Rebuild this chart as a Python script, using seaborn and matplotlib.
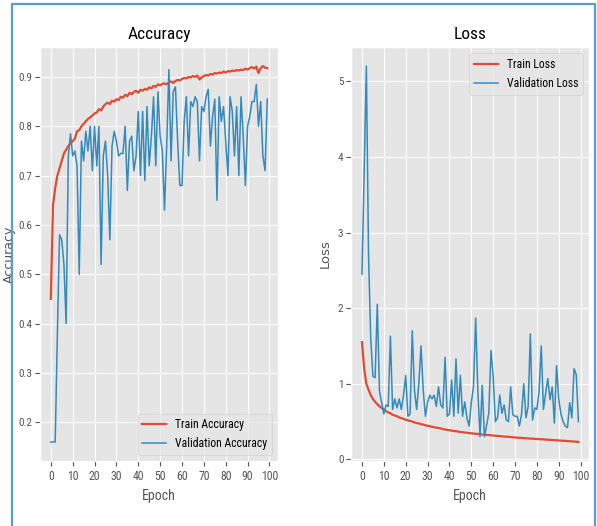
import numpy as np
import pandas as pd
import seaborn as sns
import matplotlib
matplotlib.use("Agg")
import matplotlib.pyplot as plt
from matplotlib import font_manager
from matplotlib.lines import Line2D

# epochs 0..99
epochs = list(range(100))

train_acc = [0.45, 0.64, 0.675, 0.70, 0.715, 0.73, 0.745, 0.752, 0.76, 0.765,
             0.77, 0.775, 0.79, 0.792, 0.80, 0.805, 0.81, 0.815, 0.818, 0.822,
             0.826, 0.828, 0.835, 0.832, 0.84, 0.845, 0.848, 0.845, 0.852, 0.85,
             0.855, 0.853, 0.86, 0.858, 0.864, 0.861, 0.868, 0.865, 0.87, 0.872,
             0.868, 0.874, 0.872, 0.876, 0.874, 0.879, 0.877, 0.882, 0.88, 0.885,
             0.883, 0.886, 0.887, 0.885, 0.889, 0.891, 0.888, 0.892, 0.894, 0.893,
             0.896, 0.898, 0.897, 0.90, 0.899, 0.902, 0.90, 0.903, 0.895, 0.899,
             0.902, 0.904, 0.903, 0.906, 0.905, 0.908, 0.907, 0.909, 0.908, 0.911,
             0.909, 0.912, 0.911, 0.913, 0.912, 0.914, 0.913, 0.915, 0.914, 0.917,
             0.915, 0.918, 0.92, 0.917, 0.921, 0.908, 0.918, 0.922, 0.919, 0.918]

val_acc = [0.16, 0.16, 0.16, 0.38, 0.58, 0.57, 0.52, 0.40, 0.74, 0.785,
           0.74, 0.75, 0.72, 0.50, 0.77, 0.73, 0.79, 0.75, 0.80, 0.71,
           0.80, 0.72, 0.80, 0.52, 0.74, 0.77, 0.70, 0.57, 0.76, 0.79,
           0.77, 0.74, 0.745, 0.745, 0.80, 0.67, 0.77, 0.78, 0.71, 0.74,
           0.83, 0.70, 0.83, 0.69, 0.84, 0.72, 0.78, 0.86, 0.72, 0.87,
           0.78, 0.75, 0.63, 0.76, 0.915, 0.73, 0.87, 0.88, 0.77, 0.68,
           0.68, 0.81, 0.86, 0.74, 0.85, 0.84, 0.86, 0.85, 0.73, 0.84,
           0.83, 0.86, 0.875, 0.76, 0.82, 0.855, 0.65, 0.86, 0.81, 0.84,
           0.77, 0.70, 0.86, 0.83, 0.74, 0.84, 0.70, 0.86, 0.78, 0.68,
           0.80, 0.82, 0.85, 0.85, 0.885, 0.80, 0.85, 0.74, 0.71, 0.855]

train_loss = [1.55, 1.20, 1.00, 0.92, 0.85, 0.80, 0.76, 0.73, 0.70, 0.68,
              0.66, 0.64, 0.62, 0.61, 0.59, 0.58, 0.57, 0.555, 0.545, 0.535,
              0.525, 0.515, 0.51, 0.50, 0.49, 0.48, 0.475, 0.465, 0.46, 0.45,
              0.445, 0.44, 0.43, 0.425, 0.42, 0.415, 0.41, 0.40, 0.395, 0.39,
              0.385, 0.38, 0.375, 0.372, 0.368, 0.362, 0.36, 0.355, 0.352, 0.348,
              0.345, 0.342, 0.338, 0.336, 0.332, 0.33, 0.326, 0.324, 0.322, 0.318,
              0.316, 0.312, 0.31, 0.308, 0.305, 0.302, 0.30, 0.298, 0.295, 0.292,
              0.29, 0.288, 0.285, 0.284, 0.281, 0.279, 0.277, 0.275, 0.274, 0.271,
              0.27, 0.268, 0.266, 0.264, 0.262, 0.26, 0.258, 0.256, 0.255, 0.252,
              0.25, 0.248, 0.246, 0.245, 0.242, 0.24, 0.238, 0.236, 0.234, 0.23]

val_loss = [2.45, 3.80, 5.20, 2.70, 1.60, 1.10, 1.08, 2.05, 0.90, 0.75,
            0.60, 0.72, 0.70, 1.63, 0.66, 0.80, 0.68, 0.80, 0.66, 0.85,
            1.11, 0.57, 0.60, 1.70, 0.92, 0.66, 1.00, 1.50, 0.92, 0.57,
            0.75, 0.85, 0.80, 0.85, 0.70, 0.96, 0.72, 0.68, 1.35, 0.57,
            0.60, 1.05, 0.57, 1.33, 0.61, 1.11, 0.57, 0.76, 0.55, 0.44,
            0.75, 0.96, 1.87, 0.90, 0.30, 0.98, 0.30, 0.45, 0.61, 1.44,
            1.10, 0.50, 0.55, 0.85, 0.61, 0.72, 0.52, 0.50, 0.96, 0.59,
            0.57, 0.57, 0.44, 0.60, 1.00, 0.55, 0.70, 1.66, 0.52, 0.68,
            0.66, 0.90, 1.50, 0.66, 0.87, 1.07, 0.79, 0.96, 0.48, 1.24,
            0.80, 0.60, 0.50, 0.44, 0.42, 0.75, 0.55, 1.20, 1.12, 0.50]

plt.style.use("ggplot")

# look for a narrow font, the reference text is squeezed
names = {f.name for f in font_manager.fontManager.ttflist}
narrow = "DejaVu Sans"
for cand in ["Liberation Sans Narrow", "DejaVu Sans Condensed", "Roboto Condensed",
             "Open Sans Condensed", "Noto Sans Condensed"]:
    if cand in names:
        narrow = cand
        break
plt.rcParams["font.family"] = [narrow, "DejaVu Sans"]

red = "#E24A33"
blue = "#348ABD"

fig, axes = plt.subplots(1, 2, figsize=(5.97, 5.26), dpi=100)
plt.subplots_adjust(left=0.067, right=0.987, bottom=0.124, top=0.91, wspace=0.307)

# Accuracy
ax = axes[0]
sns.lineplot(x=epochs, y=train_acc, ax=ax, color=red, linewidth=1.6, label="Train Accuracy")
sns.lineplot(x=epochs, y=val_acc, ax=ax, color=blue, linewidth=1.1, label="Validation Accuracy")
ax.set_title("Accuracy", fontsize=12.5)
ax.set_xlabel("Epoch", fontsize=10)
ax.set_ylabel("Accuracy", fontsize=9, family="DejaVu Sans")
ax.yaxis.set_label_coords(-0.1, 0.5)
ax.set_xticks(range(0, 101, 10))
ax.set_yticks([0.2, 0.3, 0.4, 0.5, 0.6, 0.7, 0.8, 0.9])
ax.legend(loc="lower right", fontsize=8.5)

# Loss
ax = axes[1]
sns.lineplot(x=epochs, y=train_loss, ax=ax, color=red, linewidth=1.6, label="Train Loss")
sns.lineplot(x=epochs, y=val_loss, ax=ax, color=blue, linewidth=1.1, label="Validation Loss")
ax.set_title("Loss", fontsize=12.5)
ax.set_xlabel("Epoch", fontsize=10)
ax.set_ylabel("Loss", fontsize=9.5, family="DejaVu Sans")
ax.yaxis.set_label_coords(-0.08, 0.5)
ax.set_xticks(range(0, 101, 10))
ax.set_yticks([0, 1, 2, 3, 4, 5])
ax.legend(loc="upper right", fontsize=8.5)

for ax in axes:
    ax.tick_params(axis="x", labelsize=8.5)
    ax.tick_params(axis="y", labelsize=8, pad=2)

# blue screenshot frame
fc = "#5b9bd5"
fig.add_artist(Line2D([12 / 597, 12 / 597, 595 / 597, 595 / 597],
                      [0, 1 - 4 / 526, 1 - 4 / 526, 0],
                      transform=fig.transFigure, color=fc, linewidth=1.6))

fig.savefig("out.png", dpi=100)
